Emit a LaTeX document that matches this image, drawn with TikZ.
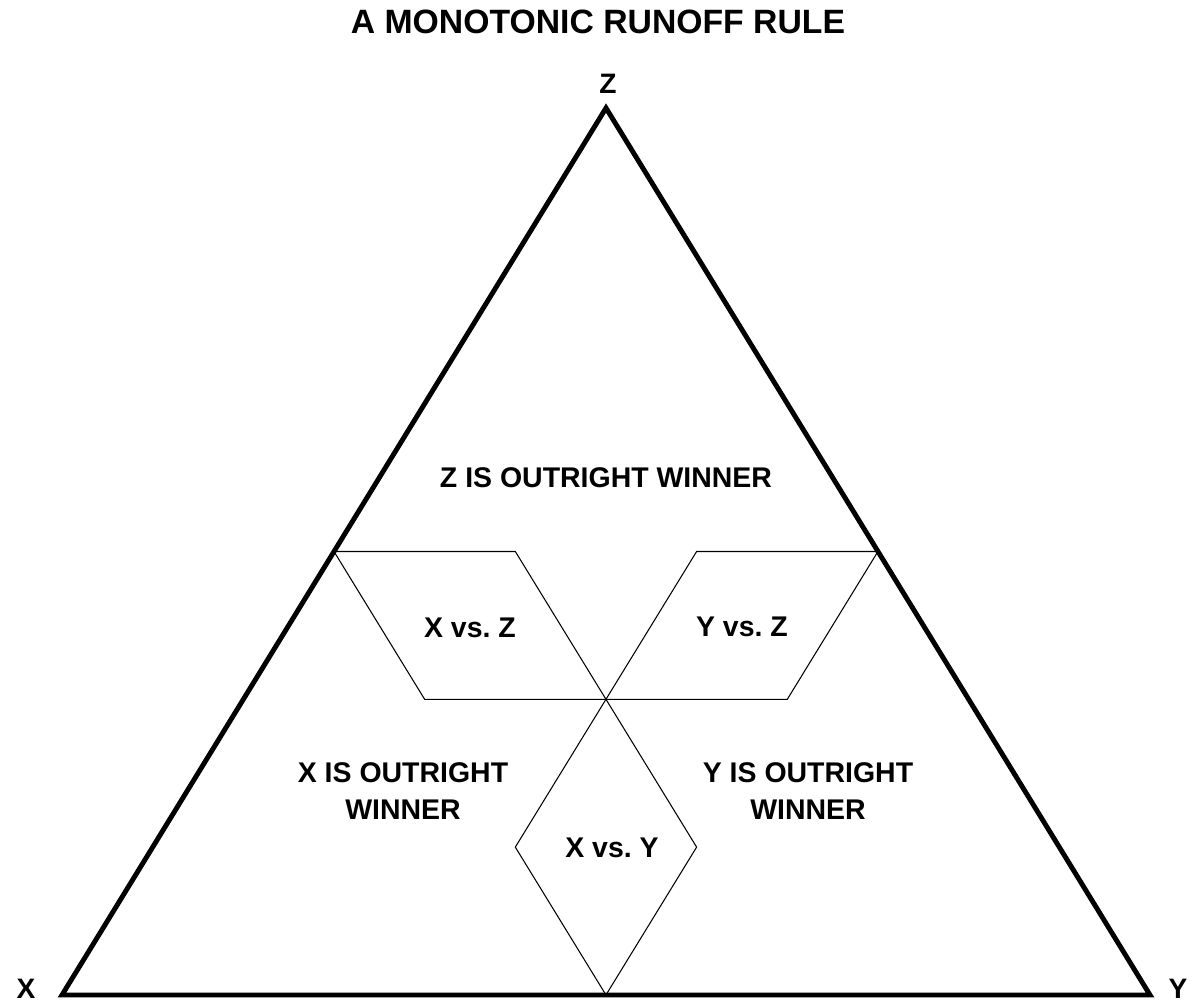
\documentclass[tikz,border=0pt]{standalone}
\usepackage{fontspec}
\setmainfont{Liberation Sans}
\tikzset{>=latex}

\begin{document}
\frenchspacing
\begin{tikzpicture}[x=0.02cm,y=-0.02cm,
  region/.style={font=\fontsize{16.2}{21.5}\selectfont\bfseries,align=center,inner sep=0pt},
  vertex/.style={font=\fontsize{16}{18}\selectfont\bfseries,inner sep=0pt},
  edge/.style={line width=2.8pt,line join=miter},
  split/.style={line width=0.6pt}]
  \useasboundingbox (0,0) rectangle (1197,1005); % page size
  \node[font=\fontsize{19.2}{22}\selectfont\bfseries,inner sep=0pt] (title) at (598,22) {A MONOTONIC RUNOFF RULE};
  \coordinate (X) at (62,995); % corners
  \coordinate (Y) at (1150,995);
  \coordinate (Z) at (606,108);
  \node[vertex] (xlab) at (26,989) {X};
  \node[vertex] (ylab) at (1178,989) {Y};
  \node[vertex] (zlab) at (608,84) {Z};
  % points in sixths of the shares
  \coordinate (mxz) at (barycentric cs:X=3,Y=0,Z=3);
  \coordinate (myz) at (barycentric cs:X=0,Y=3,Z=3);
  \coordinate (mxy) at (barycentric cs:X=3,Y=3,Z=0);
  \coordinate (c)   at (barycentric cs:X=2,Y=2,Z=2);
  \coordinate (a1)  at (barycentric cs:X=2,Y=1,Z=3);
  \coordinate (a2)  at (barycentric cs:X=1,Y=2,Z=3);
  \coordinate (b1)  at (barycentric cs:X=3,Y=1,Z=2);
  \coordinate (b2)  at (barycentric cs:X=1,Y=3,Z=2);
  \coordinate (d1)  at (barycentric cs:X=3,Y=2,Z=1);
  \coordinate (d2)  at (barycentric cs:X=2,Y=3,Z=1);
  \draw[split] (mxz) -- (a1) -- (c) -- (d2) -- (mxy) -- (d1) -- (c) -- (a2) -- (myz);
  \draw[split] (mxz) -- (b1) -- (c) -- (b2) -- (myz);
  \draw[edge] (X) -- (Y) -- (Z) -- cycle; % the triangle
  \node[region] (zwin) at (606,478) {Z IS OUTRIGHT WINNER};
  \node[region] (xwin) at (403,791) {X IS OUTRIGHT\\WINNER};
  \node[region] (ywin) at (808,791) {Y IS OUTRIGHT\\WINNER};
  \node[region] (xz) at (470,628) {X vs. Z};
  \node[region] (yz) at (742,627) {Y vs. Z};
  \node[region] (xy) at (612,848) {X vs. Y};
\end{tikzpicture}
\end{document}
